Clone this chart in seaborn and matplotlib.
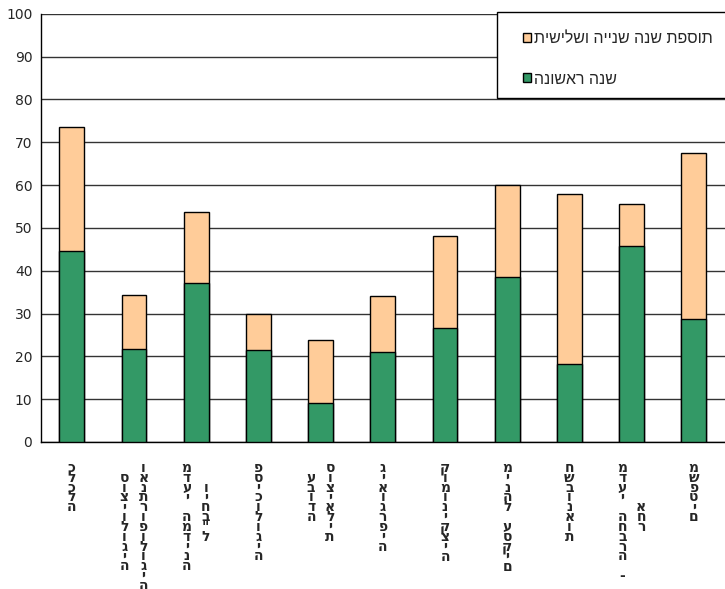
import matplotlib
matplotlib.use("Agg")
import matplotlib.pyplot as plt
import matplotlib.transforms as mtransforms
from matplotlib.patches import Rectangle, Patch
import seaborn as sns
import numpy as np

# each label is a list of lines, first line goes in the left column
labels = [
    ["כלכלה"],
    ["סוציולוגיה", "ואנתרופולוגיה"],
    ["מדעי המדינה", 'ויחב"ל'],
    ["פסיכולוגיה"],
    ["עבודה", "סוציאלית"],
    ["גיאוגרפיה"],
    ["קומוניקציה"],
    ["מינהל עסקים"],
    ["חשבונאות"],
    ["מדעי החברה -", "אחר"],
    ["משפטים"],
]
first_year = [44.5, 21.6, 37.2, 21.5, 9.2, 21.0, 26.7, 38.6, 18.2, 45.8, 28.8]
added_years = [29.1, 12.8, 16.6, 8.3, 14.7, 13.0, 21.5, 21.3, 39.8, 9.7, 38.6]
legend_labels = ["תוספת שנה שנייה ושלישית", "שנה ראשונה"]
y_ticks = list(range(0, 101, 10))

green = "#339966"
orange = "#FFCC99"

sns.set_style("white")
plt.rcParams["font.family"] = ["DejaVu Sans"]
heb_font = ["Liberation Sans", "DejaVu Sans"]

names = [" ".join(l) for l in labels]
totals = np.array(first_year) + np.array(added_years)

fig = plt.figure(figsize=(7.25, 5.89), dpi=100)
ax = fig.add_axes([0.0561, 0.2496, 0.9439, 0.7271])

ax.yaxis.grid(True, color="#333333", linewidth=1)
ax.set_axisbelow(True)

sns.barplot(x=names, y=totals, color=orange, width=0.4, saturation=1,
            edgecolor="black", linewidth=1, ax=ax, zorder=2)
sns.barplot(x=names, y=first_year, color=green, width=0.4, saturation=1,
            edgecolor="black", linewidth=1, ax=ax, zorder=3)

ax.set_xlim(-0.5, len(names) - 0.5)
ax.set_ylim(0, 100)
ax.set_yticks(y_ticks)
ax.tick_params(axis="y", labelsize=10, length=4, width=1, color="black", pad=2)
ax.tick_params(axis="x", length=0)
ax.set_xticklabels([])
ax.set_xlabel("")
ax.set_ylabel("")
for s in ["top", "right"]:
    ax.spines[s].set_visible(False)
for s in ["left", "bottom"]:
    ax.spines[s].set_color("black")
    ax.spines[s].set_linewidth(1)

# vertical stacked hebrew labels
for i, lines in enumerate(labels):
    n_max = max(len(l) for l in lines)
    ncol = len(lines)
    for j, line in enumerate(lines):
        pad = (n_max - len(line)) // 2
        stacked = "\n".join([" "] * pad + list(line))
        dx = (j - (ncol - 1) / 2) * 19
        tr = mtransforms.offset_copy(ax.get_xaxis_transform(), fig=fig,
                                     x=dx, y=-19, units="dots")
        ax.text(i, 0, stacked, transform=tr, ha="center", va="top",
                fontsize=10, fontweight="bold", linespacing=0.62,
                multialignment="center", family="DejaVu Sans")

# legend with a plain box
handles = [Patch(facecolor=orange, edgecolor="black", linewidth=1),
           Patch(facecolor=green, edgecolor="black", linewidth=1)]
fig.legend(handles, [t[::-1] for t in legend_labels], loc="upper left",
           bbox_to_anchor=(515 / 725, 1 - 23 / 589), frameon=False,
           prop={"family": heb_font, "size": 11.5}, borderpad=0,
           handlelength=0.5, handleheight=0.5,
           handletextpad=0.2, labelspacing=1.6)
fig.patches.append(Rectangle((497 / 725, 1 - 98 / 589), 0.4, 86 / 589,
                             transform=fig.transFigure, facecolor="white",
                             edgecolor="black", linewidth=1, zorder=0))

fig.savefig("out.png", dpi=100)
